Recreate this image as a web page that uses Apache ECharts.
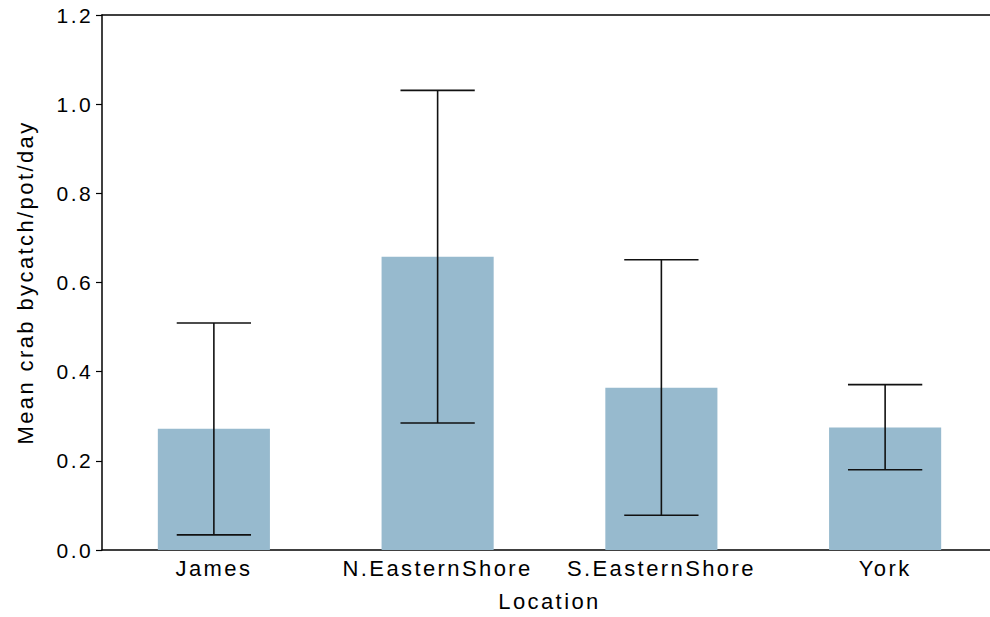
<!DOCTYPE html>
<html>
<head>
<meta charset="utf-8">
<script src="https://cdn.jsdelivr.net/npm/echarts@6/dist/echarts.min.js"></script>
<style>
  html, body { margin: 0; padding: 0; background: #fff; overflow: hidden; }
  /* the plot runs a few pixels past the right edge of the window */
  #chart { width: 997px; height: 617px; }
  /* slightly open letter spacing for all chart text */
  #chart svg text { letter-spacing: 2.4px; }
</style>
</head>
<body>
<div id="chart"></div>
<script>
// Mean crab bycatch per pot per day, by location, with error bars
const locations = ['James', 'N.EasternShore', 'S.EasternShore', 'York'];
const means = [0.272, 0.658, 0.364, 0.275];
const lowerBounds = [0.034, 0.285, 0.078, 0.180];
const upperBounds = [0.509, 1.031, 0.651, 0.371];
const yTicks = [0.0, 0.2, 0.4, 0.6, 0.8, 1.0, 1.2];

const errorData = locations.map((_, i) => [i, lowerBounds[i], upperBounds[i]]);

const FONT = '"Liberation Sans", Arial, sans-serif';
const chart = echarts.init(document.getElementById('chart'), null, { renderer: 'svg' });

chart.setOption({
  animation: false,
  backgroundColor: '#ffffff',
  grid: { left: 102, right: 0, top: 15, bottom: 66, containLabel: false },
  xAxis: [
    {
      type: 'category',
      data: locations,
      name: 'Location',
      nameLocation: 'middle',
      nameGap: 40,
      nameTextStyle: { fontFamily: FONT, fontSize: 22, color: '#000' },
      axisLine: { show: true, lineStyle: { color: '#000', width: 1.5 } },
      axisTick: { show: false },
      axisLabel: { fontFamily: FONT, fontSize: 22, color: '#000', margin: 7 },
      splitLine: { show: false }
    },
    {
      type: 'category',
      data: locations,
      position: 'top',
      axisLine: { show: true, lineStyle: { color: '#000', width: 1.5 } },
      axisTick: { show: false },
      axisLabel: { show: false },
      splitLine: { show: false }
    }
  ],
  yAxis: {
    type: 'value',
    min: yTicks[0],
    max: yTicks[yTicks.length - 1],
    interval: 0.2,
    name: 'Mean crab bycatch/pot/day',
    nameLocation: 'middle',
    nameGap: 66,
    nameTextStyle: { fontFamily: FONT, fontSize: 22, color: '#000' },
    axisLine: { show: true, lineStyle: { color: '#000', width: 1.5 } },
    axisTick: { show: true, length: 6, lineStyle: { color: '#000', width: 1.2 } },
    axisLabel: {
      fontFamily: FONT, fontSize: 21, color: '#000', margin: 9,
      formatter: v => v.toFixed(1)
    },
    splitLine: { show: false }
  },
  series: [
    {
      type: 'bar',
      data: means,
      barWidth: '50.1%',
      itemStyle: { color: '#97bace' },
      z: 2
    },
    {
      type: 'custom',
      data: errorData,
      z: 3,
      renderItem: function (params, api) {
        const x = api.value(0);
        const lo = api.coord([x, api.value(1)]);
        const hi = api.coord([x, api.value(2)]);
        const half = api.size([1, 0])[0] * 0.166;
        const style = { stroke: '#111', lineWidth: 1.6 };
        return {
          type: 'group',
          children: [
            { type: 'line', shape: { x1: lo[0], y1: lo[1], x2: hi[0], y2: hi[1] }, style: style },
            { type: 'line', shape: { x1: hi[0] - half, y1: hi[1], x2: hi[0] + half, y2: hi[1] }, style: style },
            { type: 'line', shape: { x1: lo[0] - half, y1: lo[1], x2: lo[0] + half, y2: lo[1] }, style: style }
          ]
        };
      }
    }
  ]
});
</script>
</body>
</html>
